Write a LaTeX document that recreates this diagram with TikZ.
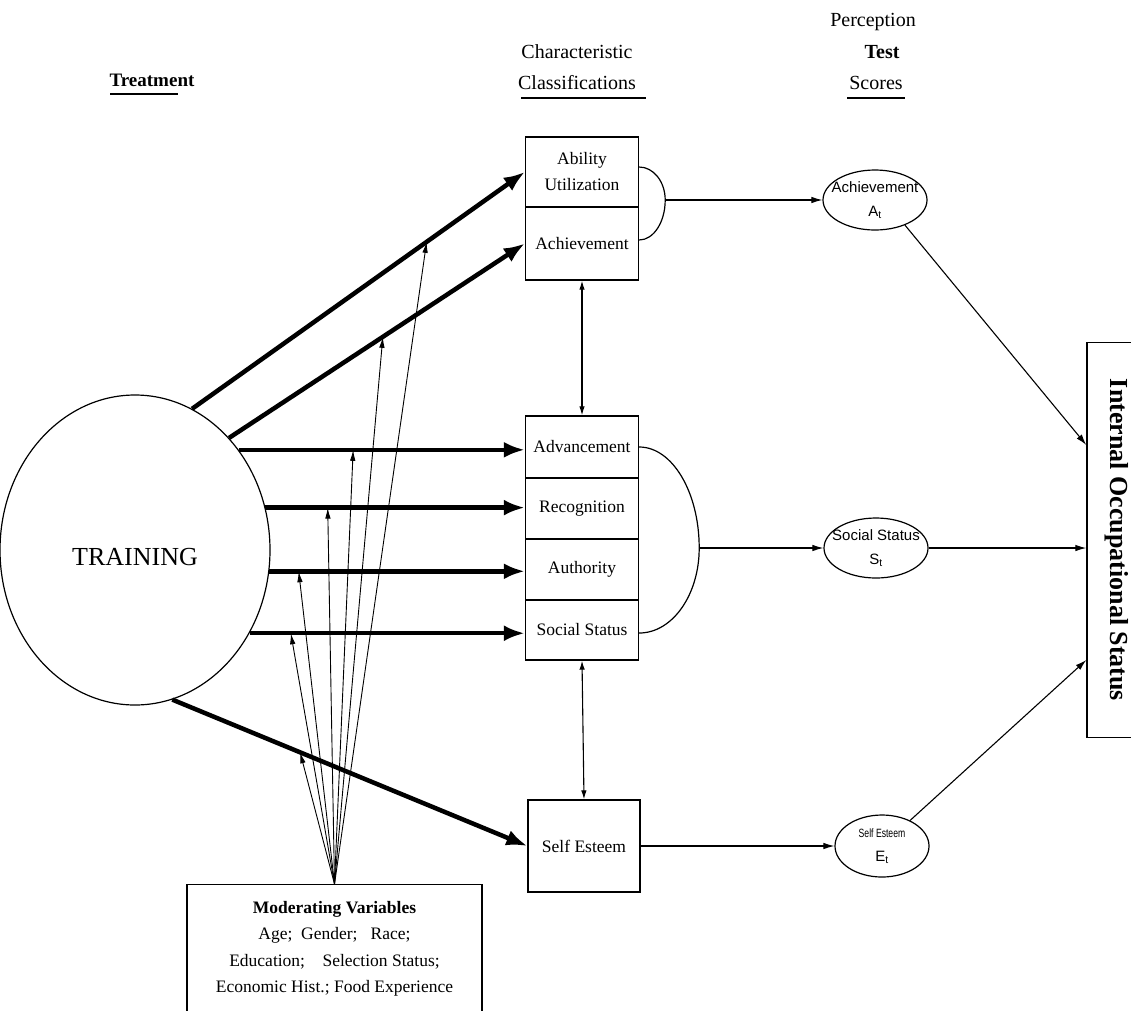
\documentclass[tikz,border=0pt]{standalone}
\usepackage{fontspec}
\usepackage{graphicx}
\setmainfont{Liberation Serif}
\newfontfamily\sansf{Liberation Sans}
\usetikzlibrary{arrows.meta,shapes.geometric,calc}
\begin{document}
\begin{tikzpicture}[x=1pt,y=-1pt,
  thickarrow/.style={line width=4.5pt,-{Latex[length=21pt,width=16pt]}},
  thinarrow/.style={line width=1.1pt,-{Latex[length=11pt,width=6.5pt]}},
  fanarrow/.style={line width=0.9pt,-{Latex[length=11pt,width=5.5pt]}},
  cell/.style={draw,line width=1.4pt,minimum width=113pt,inner sep=0pt,align=center,font=\fontsize{17.5}{26}\selectfont},
  score/.style={draw,ellipse,line width=1.2pt,inner sep=0pt,align=center,font=\sansf\fontsize{15}{24}\selectfont},
  hdr/.style={font=\fontsize{20}{22}\selectfont},
  hdrb/.style={font=\bfseries\fontsize{20}{22}\selectfont},
  plain/.style={line width=1.2pt}
]
\useasboundingbox (0,0) rectangle (1131,1010);
\fill[white] (0,0) rectangle (1131,1010);
\clip (0,0) rectangle (1131,1010);

% headers
\node[font=\bfseries\fontsize{19}{21}\selectfont] (treat) at (152,80) {Treatment};
\draw[plain] (110,94) -- (178,94);
\node[hdr] (cc1) at (577,52) {Characteristic};
\node[hdr] (cc2) at (577,83) {Classifications};
\draw[plain] (521,98) -- (646,98);
\node[hdr] (pp1) at (873,22) {Perception};
\node[hdrb] (pp2) at (882,52) {Test};
\node[hdr] (pp3) at (876,83) {Scores};
\draw[plain] (847,98) -- (905,98);

% training
\node[draw,ellipse,line width=1.2pt,minimum width=270pt,minimum height=310pt,inner sep=0pt,
      font=\fontsize{26}{28}\selectfont] (tr) at (135,550) {\raisebox{-15pt}[0pt][0pt]{TRAINING}};

% characteristic cells
\node[cell,minimum height=70pt] (abil) at (582,172) {Ability\\Utilization};
\node[cell,minimum height=73pt] (ach) at (582,243.5) {Achievement};
\node[cell,minimum height=62pt] (adv) at (582,447) {Advancement};
\node[cell,minimum height=61pt] (rec) at (582,508.5) {Recognition};
\node[cell,minimum height=61pt] (auth) at (582,569.5) {Authority};
\node[cell,minimum height=60pt] (soc) at (582,630) {Social Status};
\node[cell,minimum width=112pt,minimum height=92pt] (self) at (584,846) {Self Esteem};

% score ellipses
\node[score,minimum width=104pt,minimum height=60pt] (achS) at (875,200)
  {\makebox[0pt]{Achievement}\\\makebox[0pt]{A\textsubscript{t}}};
\node[score,minimum width=104pt,minimum height=60pt] (socS) at (876,548)
  {\makebox[0pt]{Social Status}\\\makebox[0pt]{S\textsubscript{t}}};
\node[score,minimum width=94pt,minimum height=62pt] (selfS) at (882,846)
  {\makebox[0pt]{\fontsize{12}{24}\selectfont\scalebox{0.72}[1]{Self Esteem}}\\\makebox[0pt]{E\textsubscript{t}}};

% internal occupational status
\node[draw,line width=1.4pt,rotate=-90,minimum width=395pt,minimum height=60pt,inner sep=0pt,
      font=\bfseries\fontsize{26}{28}\selectfont] (ios) at (1117,540) {Internal Occupational Status};

% moderating variables
\node[draw,line width=1.4pt,minimum width=295pt,minimum height=140pt,anchor=north] (mod) at (334.5,884) {};
\node[align=center,font=\fontsize{17.5}{26.5}\selectfont] (modtxt) at (334.5,949)
  {\textbf{Moderating Variables}\\Age;\ \ Gender;\ \ \ Race;\\Education;\ \ \ \ Selection Status;\\Economic Hist.;\ Food Experience};

% arcs grouping cells
\draw[plain] ([yshift=5pt]abil.east) arc[start angle=-90,end angle=0,x radius=26,y radius=33]
  coordinate (arc1e) arc[start angle=0,end angle=90,x radius=26,y radius=40];
\draw[plain] (adv.east) arc[start angle=-90,end angle=0,x radius=60,y radius=101]
  coordinate (arc2e) arc[start angle=0,end angle=90,x radius=60,y radius=85];

% to scores
\draw[thinarrow] (arc1e) -- (arc1e -| achS.west);
\draw[thinarrow] (arc2e) -- (arc2e -| socS.west);
\draw[thinarrow] (self.east) -- (self.east -| selfS.west);

% vertical two-headed
\draw[line width=1.1pt,{Latex[length=9pt,width=5.5pt]}-{Latex[length=9pt,width=5.5pt]}] (ach.south) -- (adv.north);
\draw[line width=1.1pt,{Latex[length=9pt,width=5.5pt]}-{Latex[length=9pt,width=5.5pt]}] (soc.south) -- (self.north);

% to IOS
\coordinate (y445) at (0,445);
\coordinate (y660) at (0,660);
\coordinate (io1) at (ios.south |- y445);
\coordinate (io3) at (ios.south |- y660);
\draw[thinarrow] (achS.-40) -- (io1);
\draw[thinarrow] (socS) -- (ios.south |- socS);
\draw[thinarrow] (selfS) -- (io3);

% thick treatment arrows
\draw[thickarrow] (tr.68) -- coordinate[pos=0.705] (f1) (abil.west);
\draw[thickarrow] (tr.50) -- coordinate[pos=0.52] (f2) (ach.west);
\draw[thickarrow] (tr.44) -- coordinate[pos=0.40] (f3) (tr.44 -| adv.west);
\draw[thickarrow] (tr.18) -- coordinate[pos=0.24] (f4) (tr.18 -| rec.west);
\draw[thickarrow] (tr.-9) -- coordinate[pos=0.115] (f5) (tr.-9 -| auth.west);
\draw[thickarrow] (tr.-36) -- coordinate[pos=0.15] (f6) (tr.-36 -| soc.west);
\draw[thickarrow] (tr.-76) -- coordinate[pos=0.36] (f7) (self.west);

% moderating fan
\foreach \f in {f1,f2,f3,f4,f5,f6,f7}
  \draw[fanarrow] (mod.north) -- (\f);
\end{tikzpicture}
\end{document}
